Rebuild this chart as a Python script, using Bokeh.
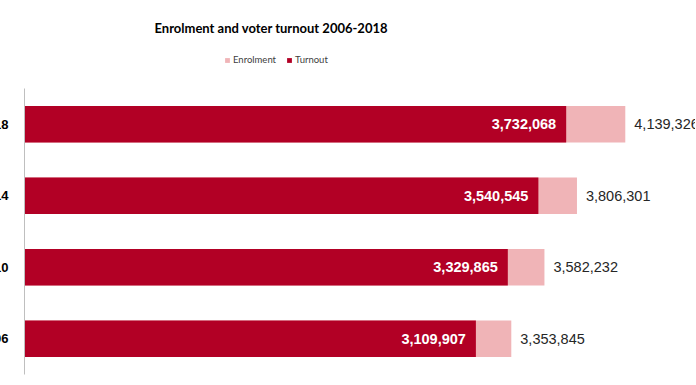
from bokeh.plotting import figure
from bokeh.models import ColumnDataSource, Range1d, Legend, LegendItem, Title, FixedTicker
from bokeh.embed import file_html
from bokeh.resources import INLINE
from bokeh.core.properties import value

years = ["2006", "2010", "2014", "2018"]
enrolment = [3353845, 3582232, 3806301, 4139326]
turnout = [3109907, 3329865, 3540545, 3732068]

ypos = list(range(len(years)))
src = ColumnDataSource(dict(
    y=ypos,
    enrol=enrolment,
    turn=turnout,
    enrol_lbl=[f"{v:,}" for v in enrolment],
    turn_lbl=[f"{v:,}" for v in turnout],
))

p = figure(
    y_range=Range1d(-0.5, len(years) - 0.5 + 0.615),
    x_range=Range1d(0, 4623000),
    frame_width=671, frame_height=330,
    output_backend="svg", toolbar_location=None,
    min_border_left=0, min_border_right=0, min_border_top=44, min_border_bottom=4,
    outline_line_color=None,
    styles={"margin-left": "-24px"},
)

r_en = p.hbar(y="y", left=0, right="enrol", height=0.51, source=src,
              fill_color="#F0B4B7", line_color=None)
r_tu = p.hbar(y="y", left=0, right="turn", height=0.51, source=src,
              fill_color="#B20025", line_color=None)

p.text(x="turn", y="y", text="turn_lbl", source=src, x_offset=-10,
       text_align="right", text_baseline="middle", text_color="white",
       text_font=value("Liberation Sans"), text_font_style="bold", text_font_size="14.5px")
p.text(x="enrol", y="y", text="enrol_lbl", source=src, x_offset=9,
       text_align="left", text_baseline="middle", text_color="#262626",
       text_font=value("Liberation Sans"), text_font_size="14.5px")

p.xaxis.visible = False
p.xgrid.visible = False
p.ygrid.visible = False
yax = p.yaxis[0]
yax.ticker = FixedTicker(ticks=ypos)
yax.major_label_overrides = {i: y for i, y in zip(ypos, years)}
yax.bounds = (-0.5, len(years) - 0.5)
yax.axis_line_color = "#BFBFBF"
yax.major_tick_line_color = None
yax.minor_tick_line_color = None
yax.major_tick_out = 0
yax.major_label_standoff = 16
yax.major_label_text_font = "Liberation Sans"
yax.major_label_text_font_style = "bold"
yax.major_label_text_font_size = "13px"
yax.major_label_text_color = "#000000"

legend = Legend(items=[LegendItem(label="Enrolment", renderers=[r_en]),
                       LegendItem(label="Turnout", renderers=[r_tu])],
                orientation="horizontal", location=(200, 309),
                label_text_font="Lato", label_text_font_size="9.5px",
                label_text_color="#404040", glyph_width=6, glyph_height=6,
                spacing=10, label_standoff=3, padding=0, margin=0,
                border_line_color=None, background_fill_alpha=0,
                label_height=10)
p.add_layout(legend, "center")

p.title = Title(text="Enrolment and voter turnout 2006-2018", align="left", offset=130,
                text_font="Lato", text_font_style="bold", text_font_size="13px",
                text_color="#000000", standoff=17)

open("out.html", "w").write(file_html(p, INLINE))
